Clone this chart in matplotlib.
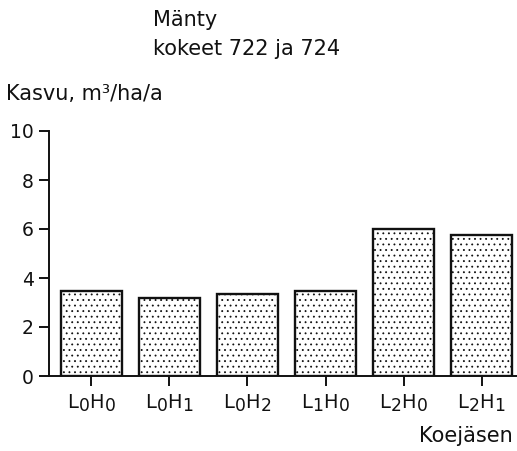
import matplotlib
matplotlib.use("Agg")
import matplotlib.pyplot as plt
import numpy as np

try:
    import matplotlib._mathtext as _mt
    _mt.SHRINK_FACTOR = 0.88
except Exception:
    pass

categories = [r"$\mathrm{L_0H_0}$", r"$\mathrm{L_0H_1}$", r"$\mathrm{L_0H_2}$",
              r"$\mathrm{L_1H_0}$", r"$\mathrm{L_2H_0}$", r"$\mathrm{L_2H_1}$"]
values = [3.47, 3.20, 3.35, 3.48, 6.00, 5.77]
yticks = [0, 2, 4, 6, 8, 10]

plt.rcParams['font.family'] = ['DejaVu Sans']
plt.rcParams['mathtext.fontset'] = 'custom'
plt.rcParams['mathtext.rm'] = 'DejaVu Sans'
plt.rcParams['mathtext.it'] = 'DejaVu Sans'
plt.rcParams['hatch.linewidth'] = 0.6
plt.rcParams['hatch.color'] = '#333333'

W, H = 517, 451
fig = plt.figure(figsize=(W / 100, H / 100), dpi=100)
ax = fig.add_axes([49 / W, (H - 376) / H, (517 - 49) / W, (376 - 131) / H])

x = np.arange(len(values))
ax.bar(x, values, width=0.78, facecolor='white', edgecolor='#111111',
       linewidth=1.7, hatch='...', zorder=2)

ax.set_xlim(-0.54, 5.45)
ax.set_ylim(0, 10)
ax.set_xticks(x)
ax.set_xticklabels(categories, fontsize=14)
ax.set_yticks(yticks)
ax.set_yticklabels([str(t) for t in yticks], fontsize=13.5)
for s in ['top', 'right']:
    ax.spines[s].set_visible(False)
for s in ['left', 'bottom']:
    ax.spines[s].set_linewidth(1.4)
    ax.spines[s].set_color('#111111')
ax.tick_params(axis='both', direction='out', length=7, width=1.4, color='#111111',
               labelcolor='#111111')
ax.tick_params(axis='y', pad=4)
ax.tick_params(axis='x', pad=5)

def fx(px):
    return px / W

def fy(py):
    return 1 - py / H

tkw = dict(fontsize=15, va='baseline', color='#111111')
fig.text(fx(153), fy(26), "Mänty", ha='left', **tkw)
fig.text(fx(153), fy(55), "kokeet 722 ja 724", ha='left', **tkw)
fig.text(fx(6), fy(100), "Kasvu, m³/ha/a", ha='left', **tkw)
fig.text(fx(513), fy(442), "Koejäsen", ha='right', **tkw)

fig.savefig("out.png", dpi=100)
